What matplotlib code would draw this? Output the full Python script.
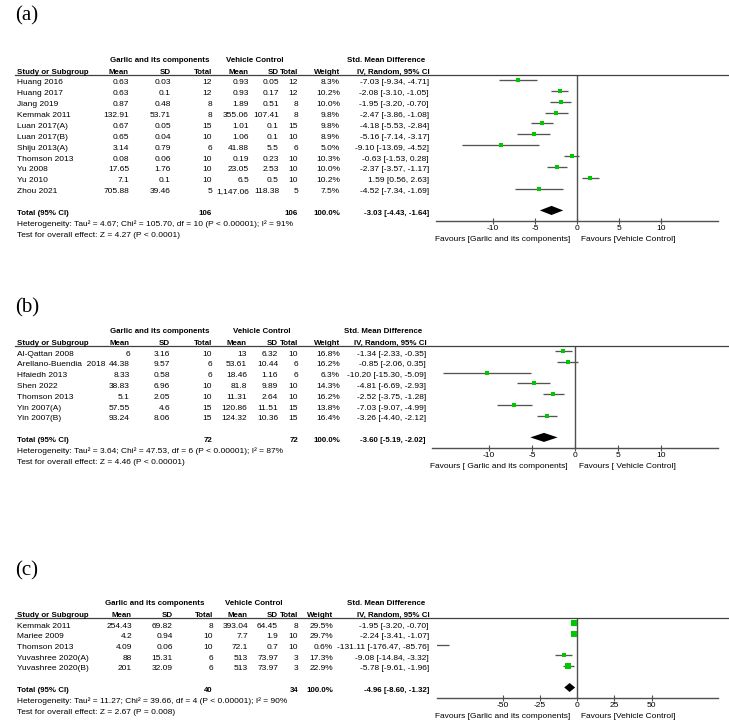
import numpy as np
import matplotlib
matplotlib.use("Agg")
import matplotlib.pyplot as plt
import matplotlib.transforms as mtransforms

W, H = 729, 726
plt.rcParams["font.family"] = ["Liberation Sans", "DejaVu Sans"]
FS = 6.0
FSB = 5.7
GREEN = "#00c800"
GREY = "#555555"

# ---------------- panel (a) ----------------
a_study = ["Huang 2016", "Huang 2017", "Jiang 2019", "Kemmak 2011", "Luan 2017(A)",
           "Luan 2017(B)", "Shiju 2013(A)", "Thomson 2013", "Yu 2008", "Yu 2010", "Zhou 2021"]
a_m1 = [0.63, 0.63, 0.87, 132.91, 0.67, 0.65, 3.14, 0.08, 17.65, 7.1, 705.88]
a_sd1 = [0.03, 0.1, 0.48, 53.71, 0.05, 0.04, 0.79, 0.06, 1.76, 0.1, 39.46]
a_n1 = [12, 12, 8, 8, 15, 10, 6, 10, 10, 10, 5]
a_m2 = [0.93, 0.93, 1.89, 355.06, 1.01, 1.06, 41.88, 0.19, 23.05, 6.5, 1147.06]
a_sd2 = [0.05, 0.17, 0.51, 107.41, 0.1, 0.1, 5.5, 0.23, 2.53, 0.5, 118.38]
a_n2 = [12, 12, 8, 8, 15, 10, 6, 10, 10, 10, 5]
a_w = [8.3, 10.2, 10.0, 9.8, 9.8, 8.9, 5.0, 10.3, 10.0, 10.2, 7.5]
a_smd = [-7.03, -2.08, -1.95, -2.47, -4.18, -5.16, -9.10, -0.63, -2.37, 1.59, -4.52]
a_lo = [-9.34, -3.10, -3.20, -3.86, -5.53, -7.14, -13.69, -1.53, -3.57, 0.56, -7.34]
a_hi = [-4.71, -1.05, -0.70, -1.08, -2.84, -3.17, -4.52, 0.28, -1.17, 2.63, -1.69]
a_total = [106, 106, -3.03, -4.43, -1.64]
a_het = [4.67, 105.70, 10, "P < 0.00001", 91]
a_test = [4.27, "P < 0.0001"]
a_ticks = [-10, -5, 0, 5, 10]
a_fav = ["Favours [Garlic and its components]", "Favours [Vehicle Control]"]

# ---------------- panel (b) ----------------
b_study = ["Al-Qattan 2008", "Arellano-Buendia  2018", "Hfaiedh 2013", "Shen 2022",
           "Thomson 2013", "Yin 2007(A)", "Yin 2007(B)"]
b_m1 = [6, 44.38, 8.33, 38.83, 5.1, 57.55, 93.24]
b_sd1 = [3.16, 9.57, 0.58, 6.96, 2.05, 4.6, 8.06]
b_n1 = [10, 6, 6, 10, 10, 15, 15]
b_m2 = [13, 53.61, 18.46, 81.8, 11.31, 120.86, 124.32]
b_sd2 = [6.32, 10.44, 1.16, 9.89, 2.64, 11.51, 10.36]
b_n2 = [10, 6, 6, 10, 10, 15, 15]
b_w = [16.8, 16.2, 6.3, 14.3, 16.2, 13.8, 16.4]
b_smd = [-1.34, -0.85, -10.20, -4.81, -2.52, -7.03, -3.26]
b_lo = [-2.33, -2.06, -15.30, -6.69, -3.75, -9.07, -4.40]
b_hi = [-0.35, 0.35, -5.09, -2.93, -1.28, -4.99, -2.12]
b_total = [72, 72, -3.60, -5.19, -2.02]
b_het = [3.64, 47.53, 6, "P < 0.00001", 87]
b_test = [4.46, "P < 0.00001"]
b_ticks = [-10, -5, 0, 5, 10]
b_fav = ["Favours [ Garlic and its components]", "Favours [ Vehicle Control]"]

# ---------------- panel (c) ----------------
c_study = ["Kemmak 2011", "Mariee 2009", "Thomson 2013", "Yuvashree 2020(A)", "Yuvashree 2020(B)"]
c_m1 = [254.43, 4.2, 4.09, 88, 201]
c_sd1 = [69.82, 0.94, 0.06, 15.31, 32.09]
c_n1 = [8, 10, 10, 6, 6]
c_m2 = [393.04, 7.7, 72.1, 513, 513]
c_sd2 = [64.45, 1.9, 0.7, 73.97, 73.97]
c_n2 = [8, 10, 10, 3, 3]
c_w = [29.5, 29.7, 0.6, 17.3, 22.9]
c_smd = [-1.95, -2.24, -131.11, -9.08, -5.78]
c_lo = [-3.20, -3.41, -176.47, -14.84, -9.61]
c_hi = [-0.70, -1.07, -85.76, -3.32, -1.96]
c_total = [40, 34, -4.96, -8.60, -1.32]
c_het = [11.27, 39.66, 4, "P < 0.00001", 90]
c_test = [2.67, "P = 0.008"]
c_ticks = [-50, -25, 0, 25, 50]
c_fav = ["Favours [Garlic and its components]", "Favours [Vehicle Control]"]

fig = plt.figure(figsize=(W / 100, H / 100), dpi=100)
PX = mtransforms.Affine2D().scale(1 / W, -1 / H).translate(0, 1) + fig.transFigure


def num(v):
    s = f"{v:,.2f}"
    return s.rstrip("0").rstrip(".")


def txt(x, y, s, ha="right", bold=False, **kw):
    fig.text(x, y + 3.0, s, transform=PX, ha=ha, va="baseline",
             fontsize=FSB if bold else FS,
             fontweight="bold" if bold else "normal", **kw)


def panel(label, lab_y, row0, sp, cols, grp, axx, xlim, study, m1, sd1, n1, m2, sd2, n2,
          w, smd, lo, hi, total, het, test, ticks, fav):
    n = len(study)
    trow = row0 + 1.5
    fig.text(15, lab_y, label, transform=PX, ha="left", va="center",
             family="Liberation Serif", fontsize=15)
    # headers
    h1, h2 = trow - 2.05 * sp, trow - 1.0 * sp
    txt(grp[0], h1, "Garlic and its components", ha="center", bold=True)
    txt(grp[1], h1, "Vehicle Control", ha="center", bold=True)
    txt(cols[8] - 4, h1, "Std. Mean Difference", bold=True)
    txt(cols[0], h2, "Study or Subgroup", ha="left", bold=True)
    for x, s in zip(cols[1:], ["Mean", "SD", "Total", "Mean", "SD", "Total", "Weight",
                               "IV, Random, 95% CI"]):
        txt(x + (1 if s.startswith("IV") else 0), h2, s, bold=True)
    line_y = h2 + 4.5
    fig.add_artist(plt.Line2D([15, W], [line_y, line_y], transform=PX, color="#404040", lw=0.9))
    # rows
    for i in range(n):
        y = trow + i * sp
        txt(cols[0], y, study[i], ha="left")
        vals = [num(m1[i]), num(sd1[i]), str(n1[i]), num(m2[i]), num(sd2[i]), str(n2[i]),
                f"{w[i]:.1f}%", f"{smd[i]:.2f} [{lo[i]:.2f}, {hi[i]:.2f}]"]
        for x, s in zip(cols[1:], vals):
            txt(x, y, s)
    y = trow + (n + 1) * sp
    txt(cols[0], y, "Total (95% CI)", ha="left", bold=True)
    txt(cols[3], y, str(total[0]), bold=True)
    txt(cols[6], y, str(total[1]), bold=True)
    txt(cols[7], y, "100.0%", bold=True)
    txt(cols[8], y, f"{total[2]:.2f} [{total[3]:.2f}, {total[4]:.2f}]", bold=True)
    txt(cols[0], trow + (n + 2) * sp,
        f"Heterogeneity: Tau\u00b2 = {het[0]:.2f}; Chi\u00b2 = {het[1]:.2f}, df = {het[2]} "
        f"({het[3]}); I\u00b2 = {het[4]}%", ha="left")
    txt(cols[0], trow + (n + 3) * sp,
        f"Test for overall effect: Z = {test[0]:.2f} ({test[1]})", ha="left")

    # forest plot
    ytop, ybot = line_y, row0 + (n + 1.95) * sp
    ax = fig.add_axes([axx[0] / W, 1 - ybot / H, (axx[1] - axx[0]) / W, (ybot - ytop) / H])
    ax.set_xlim(*xlim)
    ax.set_ylim(n + 1.95, (ytop - row0) / sp)
    for s in ["left", "right", "top"]:
        ax.spines[s].set_visible(False)
    ax.spines["bottom"].set_color("#505050")
    ax.spines["bottom"].set_linewidth(1.0)
    ax.set_yticks([])
    ax.set_xticks(ticks)
    ax.set_xticklabels([str(t) for t in ticks], fontsize=FS)
    ax.tick_params(axis="x", direction="inout", length=4, width=0.8, color="#505050", pad=1.2)
    ax.patch.set_alpha(0)
    ax.axvline(0, color="#505050", lw=1.0)
    for i in range(n):
        if hi[i] < xlim[0]:
            span = (xlim[1] - xlim[0]) * 13 / (axx[1] - axx[0])
            ax.annotate("", xy=(xlim[0], i), xytext=(xlim[0] + span, i),
                        annotation_clip=False,
                        arrowprops=dict(arrowstyle="-|>,head_length=0.5,head_width=0.3",
                                        color="black", lw=1.0, mutation_scale=10,
                                        shrinkA=0, shrinkB=0))
            continue
        ax.plot([lo[i], hi[i]], [i, i], color=GREY, lw=0.95, solid_capstyle="butt")
        ax.plot(smd[i], i, "s", color=GREEN, ms=0.62 * np.sqrt(w[i]) + 0.8, mew=0, zorder=3)
    r = n + 1
    ax.fill([total[3], total[2], total[4], total[2]], [r, r - 0.42, r, r + 0.42],
            color="black", lw=0)
    ax.annotate(fav[0], xy=(0, 0), xycoords=("data", "axes fraction"), xytext=(-7, -18.5),
                textcoords="offset pixels", ha="right", va="center", fontsize=FS)
    ax.annotate(fav[1], xy=(0, 0), xycoords=("data", "axes fraction"), xytext=(4, -18.5),
                textcoords="offset pixels", ha="left", va="center", fontsize=FS)


panel("(a)", 16, 80, 10.87, [17, 129, 171, 212, 249, 279, 298, 340, 429], [160, 255],
      (436, 718), (-16.8, 16.8), a_study, a_m1, a_sd1, a_n1, a_m2, a_sd2, a_n2,
      a_w, a_smd, a_lo, a_hi, a_total, a_het, a_test, a_ticks, a_fav)
panel("(b)", 308, 351, 10.8, [17, 130, 170, 212, 247, 278, 298, 340, 426], [160, 262],
      (432, 718), (-16.6, 16.6), b_study, b_m1, b_sd1, b_n1, b_m2, b_sd2, b_n2,
      b_w, b_smd, b_lo, b_hi, b_total, b_het, b_test, b_ticks, b_fav)
panel("(c)", 571, 623, 10.75, [17, 132, 173, 213, 248, 278, 298, 333, 429], [155, 254],
      (437, 718), (-94, 94.6), c_study, c_m1, c_sd1, c_n1, c_m2, c_sd2, c_n2,
      c_w, c_smd, c_lo, c_hi, c_total, c_het, c_test, c_ticks, c_fav)

fig.savefig("out.png", dpi=100)
